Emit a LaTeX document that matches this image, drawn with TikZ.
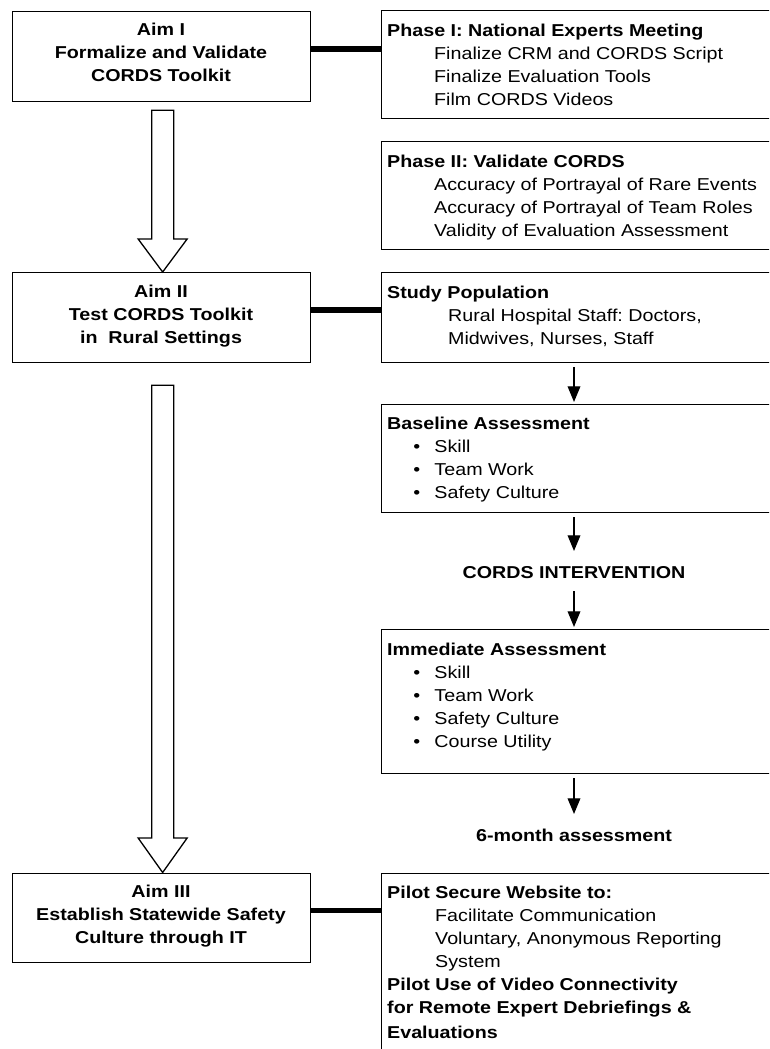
\documentclass[tikz,border=0pt]{standalone}
\usepackage{fontspec}
\setmainfont[FakeStretch=1.145]{Liberation Sans}
\usetikzlibrary{arrows.meta}
\frenchspacing
\tikzset{
 box/.style={draw=black, line width=1.3pt, rectangle, inner sep=0pt, anchor=north west},
 txt/.style={inner sep=0pt, anchor=base west},
 ctxt/.style={inner sep=0pt, anchor=base},
 link/.style={line width=5.5pt},
 hollow/.style={draw=black, line width=1.3pt, fill=white, line join=miter},
 arr/.style={line width=1.3pt, -{Triangle[width=12.7pt,length=15.7pt]}},
}
\newcommand{\fsz}{\fontsize{17.2pt}{23pt}\selectfont}
\newcommand{\bul}[1]{\makebox[47.3pt][l]{\hspace*{29.7pt}\makebox[0pt][c]{•}}#1}
\newcommand{\ind}[2]{\hspace*{#1pt}#2}
\begin{document}
\begin{tikzpicture}[x=1pt,y=-1pt]
\useasboundingbox (0,0) rectangle (769,1049);
\clip (0,0) rectangle (769,1049);
% boxes
\node[box, minimum width=298pt, minimum height=90pt] (aim1) at (12,11) {};
\node[box, minimum width=298pt, minimum height=90pt] (aim2) at (12,272) {};
\node[box, minimum width=298pt, minimum height=89.5pt] (aim3) at (12,872.5) {};
\node[box, minimum width=440pt, minimum height=108pt] (ph1) at (380.5,10) {};
\node[box, minimum width=440pt, minimum height=108pt] (ph2) at (380.5,141) {};
\node[box, minimum width=440pt, minimum height=90pt] (sp) at (380.5,272) {};
\node[box, minimum width=440pt, minimum height=108.5pt] (base) at (380.5,403.5) {};
\node[box, minimum width=440pt, minimum height=144pt] (imm) at (380.5,629) {};
\node[box, minimum width=440pt, minimum height=240pt] (pilot) at (380.5,872.5) {};
\coordinate (ax) at (574,0);
% aim texts
\node[ctxt] (aim1t) at (161,36) {\parbox[t]{298pt}{\fsz\centering\bfseries Aim I\\Formalize and Validate\\CORDS Toolkit}};
\node[ctxt] (aim2t) at (161,297) {\parbox[t]{298pt}{\fsz\centering\bfseries Aim II\\Test CORDS Toolkit\\in \ Rural Settings}};
\node[ctxt] (aim3t) at (161,897.5) {\parbox[t]{298pt}{\fsz\centering\bfseries Aim III\\Establish Statewide Safety\\Culture through IT}};
% right texts
\node[txt] (ph1t) at (387,36.3) {\parbox[t]{380pt}{\fsz\raggedright
 \textbf{Phase I: National Experts Meeting}\\
 \ind{47}{Finalize CRM and CORDS Script}\\
 \ind{47}{Finalize Evaluation Tools}\\
 \ind{47}{Film CORDS Videos}}};
\node[txt] (ph2t) at (387,167.3) {\parbox[t]{380pt}{\fsz\raggedright
 \textbf{Phase II: Validate CORDS}\\
 \ind{47}{Accuracy of Portrayal of Rare Events}\\
 \ind{47}{Accuracy of Portrayal of Team Roles}\\
 \ind{47}{Validity of Evaluation Assessment}}};
\node[txt] (spt) at (387,298.3) {\parbox[t]{380pt}{\fsz\raggedright
 \textbf{Study Population}\\
 \ind{61}{Rural Hospital Staff: Doctors,}\\
 \ind{61}{Midwives, Nurses, Staff}}};
\node[txt] (baset) at (387,429.8) {\parbox[t]{380pt}{\fsz\raggedright
 \textbf{Baseline Assessment}\\
 \bul{Skill}\\
 \bul{Team Work}\\
 \bul{Safety Culture}}};
\node[txt] (immt) at (387,655.3) {\parbox[t]{380pt}{\fsz\raggedright
 \textbf{Immediate Assessment}\\
 \bul{Skill}\\
 \bul{Team Work}\\
 \bul{Safety Culture}\\
 \bul{Course Utility}}};
\node[txt] (pilott) at (387,898.8) {\parbox[t]{380pt}{\fsz\raggedright
 \textbf{Pilot Secure Website to:}\\
 \ind{48}{Facilitate Communication}\\
 \ind{48}{Voluntary, Anonymous Reporting}\\
 \ind{48}{System}\\
 \textbf{Pilot Use of Video Connectivity}\\
 \textbf{for Remote Expert Debriefings \&}\\[2pt]
 \textbf{Evaluations}}};
\node[ctxt] (cords) at (574,578) {\fsz\bfseries CORDS INTERVENTION};
\node[ctxt] (sixm) at (574,841) {\fsz\bfseries 6-month assessment};
% thick links
\draw[link] ([yshift=7.5pt]aim1.east) -- ([yshift=7.5pt]aim1.east -| ph1.west);
\draw[link] ([yshift=7.5pt]aim2.east) -- ([yshift=7.5pt]aim2.east -| sp.west);
\draw[link] ([yshift=7.5pt]aim3.east) -- ([yshift=7.5pt]aim3.east -| pilot.west);
% hollow arrows
\draw[hollow] ([xshift=-10pt,yshift=-8pt]aim1.south) -- ([xshift=-10pt,yshift=33pt]aim2.north)
  -- ([xshift=-23.5pt,yshift=33pt]aim2.north) -- ([xshift=1pt]aim2.north)
  -- ([xshift=25.5pt,yshift=33pt]aim2.north) -- ([xshift=12pt,yshift=33pt]aim2.north)
  -- ([xshift=12pt,yshift=-8pt]aim1.south) -- cycle;
\draw[hollow] ([xshift=-10pt,yshift=-22pt]aim2.south) -- ([xshift=-10pt,yshift=34.5pt]aim3.north)
  -- ([xshift=-23.5pt,yshift=34.5pt]aim3.north) -- ([xshift=1pt]aim3.north)
  -- ([xshift=25.5pt,yshift=34.5pt]aim3.north) -- ([xshift=12pt,yshift=34.5pt]aim3.north)
  -- ([xshift=12pt,yshift=-22pt]aim2.south) -- cycle;
% thin arrows
\draw[arr] ([yshift=-3.5pt]sp.south -| ax) -- ([yshift=1.5pt]base.north -| ax);
\draw[arr] ([yshift=-4pt]base.south -| ax) -- ([yshift=27pt]cords.base -| ax);
\draw[arr] ([yshift=-13pt]cords.base -| ax) -- ([yshift=2pt]imm.north -| ax);
\draw[arr] ([yshift=-4pt]imm.south -| ax) -- ([yshift=27pt]sixm.base -| ax);
\end{tikzpicture}
\end{document}
